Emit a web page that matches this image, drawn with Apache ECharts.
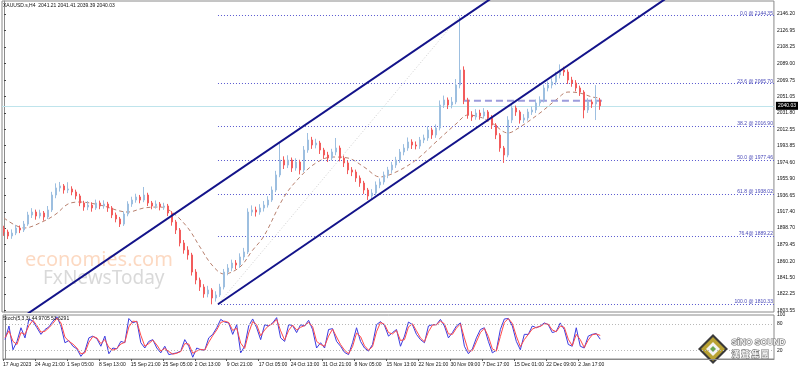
<!DOCTYPE html>
<html><head><meta charset="utf-8">
<script src="https://cdn.jsdelivr.net/npm/echarts@6/dist/echarts.min.js"></script>
<style>html,body{margin:0;padding:0;background:#fff}#c{width:798px;height:371px}</style>
</head><body><div id="c"></div>
<script>
const timeLabels = ['17 Aug 2023','24 Aug 21:00','1 Sep 05:00','8 Sep 13:00','15 Sep 21:00','25 Sep 05:00','2 Oct 13:00','9 Oct 21:00','17 Oct 05:00','24 Oct 13:00','31 Oct 21:00','8 Nov 05:00','15 Nov 13:00','22 Nov 21:00','30 Nov 09:00','7 Dec 17:00','15 Dec 01:00','22 Dec 09:00','2 Jan 17:00'];
const priceTicks = [2146.20,2126.95,2108.25,2089.00,2069.75,2051.05,2031.80,2012.55,1993.85,1974.60,1955.90,1936.65,1917.40,1898.70,1879.45,1860.20,1841.50,1822.25,1803.55];
const stochTicks = [100,80,20];
// [open, close, low, high]
const candles = [
[1898.0,1894.0,1889.5,1901.2],[1894.0,1889.4,1885.8,1896.7],[1889.4,1892.8,1886.1,1897.0],[1892.8,1898.6,1890.4,1902.3],[1898.6,1896.3,1892.7,1901.5],
[1896.3,1903.2,1894.0,1906.8],[1903.2,1913.7,1901.1,1917.4],[1913.7,1917.1,1910.2,1921.6],[1917.1,1912.5,1908.3,1919.9],[1912.5,1916.0,1909.7,1919.8],
[1916.0,1911.4,1907.2,1918.3],[1911.4,1919.5,1909.0,1924.1],[1919.5,1936.8,1917.2,1940.5],[1936.8,1945.0,1933.1,1950.3],[1945.0,1947.3,1940.8,1951.9],
[1947.3,1942.6,1938.4,1949.5],[1942.6,1943.8,1939.0,1951.6],[1943.8,1940.3,1936.5,1946.9],[1940.3,1935.7,1931.8,1943.0],[1935.7,1927.6,1923.9,1938.2],
[1927.6,1922.9,1918.6,1930.1],[1922.9,1925.2,1919.3,1929.8],[1925.2,1921.8,1917.5,1928.4],[1921.8,1927.6,1919.6,1931.5],[1927.6,1924.1,1920.4,1930.3],
[1924.1,1926.4,1921.0,1930.7],[1926.4,1921.8,1917.3,1928.9],[1921.8,1913.7,1910.1,1924.0],[1913.7,1909.1,1905.2,1916.5],[1909.1,1903.2,1899.8,1911.4],
[1903.2,1914.8,1901.0,1917.9],[1914.8,1926.4,1912.2,1929.6],[1926.4,1931.0,1923.1,1934.8],[1931.0,1934.5,1927.9,1938.3],[1934.5,1931.0,1927.2,1936.9],
[1931.0,1936.8,1928.5,1946.1],[1936.8,1927.6,1924.0,1939.4],[1927.6,1924.1,1920.3,1929.9],[1924.1,1926.4,1921.1,1930.5],[1926.4,1922.9,1919.0,1928.7],
[1922.9,1924.1,1919.6,1927.8],[1924.1,1916.0,1912.4,1926.5],[1916.0,1905.6,1901.3,1918.2],[1905.6,1896.3,1891.7,1908.0],[1896.3,1881.3,1877.4,1898.6],
[1881.3,1873.2,1868.9,1884.7],[1873.2,1867.4,1862.0,1877.5],[1867.4,1847.7,1843.6,1869.9],[1847.7,1838.4,1833.5,1851.0],[1838.4,1830.3,1825.8,1841.2],
[1830.3,1822.3,1817.9,1833.6],[1822.3,1826.9,1818.4,1831.7],[1826.9,1817.6,1810.3,1829.0],[1817.6,1821.1,1813.5,1825.4],[1821.1,1830.3,1818.8,1834.0],
[1830.3,1847.7,1827.5,1851.2],[1847.7,1852.3,1843.9,1856.8],[1852.3,1858.1,1848.6,1862.0],[1858.1,1855.8,1851.0,1861.5],[1855.8,1865.1,1852.4,1869.3],
[1865.1,1870.9,1861.2,1875.6],[1870.9,1917.1,1868.5,1921.4],[1917.1,1919.5,1912.6,1924.8],[1919.5,1917.1,1911.9,1923.3],[1917.1,1921.8,1914.0,1926.2],
[1921.8,1925.2,1917.7,1929.9],[1925.2,1931.0,1922.3,1935.4],[1931.0,1942.6,1928.8,1946.7],[1942.6,1960.0,1940.1,1964.8],[1960.0,1977.3,1957.4,1997.0],
[1977.3,1971.5,1966.9,1981.6],[1971.5,1977.3,1968.0,1982.8],[1977.3,1968.1,1963.5,1980.2],[1968.1,1975.0,1964.9,1979.3],[1975.0,1965.8,1960.7,1977.6],
[1965.8,1988.9,1963.2,1993.5],[1988.9,2000.5,1985.7,2008.6],[2000.5,1994.7,1990.2,2004.1],[1994.7,1997.0,1990.8,2001.9],[1997.0,1988.9,1984.3,1999.5],
[1988.9,1983.1,1978.6,1991.4],[1983.1,1979.6,1975.0,1986.8],[1979.6,1986.6,1976.8,1990.3],[1986.6,1991.2,1982.9,2002.8],[1991.2,1979.6,1975.8,1994.0],
[1979.6,1973.9,1969.2,1982.5],[1973.9,1965.8,1961.0,1976.4],[1965.8,1963.4,1958.7,1969.1],[1963.4,1956.5,1952.0,1966.2],[1956.5,1950.7,1946.3,1959.4],
[1950.7,1942.6,1938.1,1953.2],[1942.6,1935.7,1931.1,1945.0],[1935.7,1939.1,1932.0,1943.6],[1939.1,1948.4,1936.2,1952.5],[1948.4,1951.9,1944.7,1956.0],
[1951.9,1960.0,1948.8,1963.9],[1960.0,1965.8,1956.3,1969.4],[1965.8,1971.5,1962.1,1975.2],[1971.5,1977.3,1968.2,1981.0],[1977.3,1986.6,1974.0,1990.1],
[1986.6,1991.2,1982.8,1995.7],[1991.2,1998.2,1988.0,2003.4],[1998.2,1994.7,1990.1,2001.3],[1994.7,1993.5,1989.6,1998.8],[1993.5,2000.5,1990.2,2004.0],
[2000.5,2002.8,1996.9,2006.7],[2002.8,2012.1,1999.5,2016.4],[2012.1,2006.3,2001.8,2014.9],[2006.3,2014.4,2003.0,2018.5],[2014.4,2041.0,2011.6,2046.2],
[2041.0,2046.8,2037.5,2051.9],[2046.8,2041.0,2036.3,2049.7],[2041.0,2044.5,2037.1,2050.2],[2044.5,2064.1,2041.9,2071.0],[2064.1,2081.5,2060.3,2143.0],
[2081.5,2046.8,2042.0,2085.7],[2046.8,2029.4,2025.1,2049.3],[2029.4,2027.1,2022.6,2033.8],[2027.1,2031.7,2023.9,2036.2],[2031.7,2028.3,2024.0,2035.5],
[2028.3,2032.9,2025.2,2037.4],[2032.9,2026.0,2021.7,2035.1],[2026.0,2017.8,2013.2,2029.3],[2017.8,2006.3,2001.5,2020.0],[2006.3,1991.2,1986.9,2008.4],
[1991.2,1983.1,1974.0,1993.6],[1983.1,2023.6,1980.5,2028.0],[2023.6,2037.5,2020.1,2041.8],[2037.5,2032.9,2028.4,2040.3],[2032.9,2023.6,2019.5,2035.0],
[2023.6,2026.0,2020.2,2030.4],[2026.0,2032.9,2022.8,2036.6],[2032.9,2035.2,2029.5,2039.1],[2035.2,2043.3,2031.7,2047.2],[2043.3,2046.8,2039.9,2051.0],
[2046.8,2060.7,2044.0,2064.5],[2060.7,2064.1,2056.8,2068.3],[2064.1,2067.6,2060.2,2071.9],[2067.6,2075.7,2064.0,2079.4],[2075.7,2081.5,2071.8,2088.0],
[2081.5,2079.2,2074.7,2085.3],[2079.2,2069.9,2065.4,2082.0],[2069.9,2066.5,2062.1,2073.6],[2066.5,2060.7,2056.8,2069.8],[2060.7,2056.0,2051.5,2063.4],
[2056.0,2035.2,2025.6,2058.1],[2035.2,2044.5,2031.8,2048.9],[2044.5,2042.1,2037.6,2047.3],[2042.1,2046.8,2023.6,2064.0],[2046.8,2040.03,2035.4,2049.2]
];
const maIdx = [0,5,10,13,16,19,24,31,35,39,42,46,49,52,55,59,62,65,70,74,78,82,86,90,94,98,103,108,113,116,119,122,126,129,134,138,141,144,147,149];
const maVal = [1910.2,1898.6,1906.7,1914.8,1926.4,1928.7,1925.2,1917.1,1921.8,1922.9,1917.1,1898.6,1876.6,1855.8,1845.4,1853.5,1872.0,1889.4,1934.5,1957.7,1973.9,1980.8,1979.6,1969.3,1957.7,1963.4,1977.3,1998.2,2019.0,2029.4,2027.1,2020.1,2008.6,2015.5,2031.7,2046.8,2056.0,2054.9,2050.3,2049.1];
const stochK = [44,75,21,40,71,48,91,86,71,56,67,73,86,96,75,37,42,29,23,6,18,48,52,46,29,52,12,25,23,40,37,92,82,86,37,25,40,44,25,14,29,10,12,14,18,44,29,4,25,21,20,48,56,71,90,84,82,56,78,14,29,75,91,71,44,78,75,82,94,48,40,78,76,60,78,75,88,67,25,37,25,67,69,40,29,15,10,37,71,40,25,18,33,78,85,76,52,60,67,29,52,84,78,56,44,37,75,78,78,90,75,48,60,75,82,29,12,23,48,67,71,40,14,20,67,91,92,75,40,21,56,56,75,71,75,82,78,60,63,82,67,33,29,71,29,25,52,56,58,44.97];
const stochD = [48,64,40,33,60,56,76,88,76,61,63,71,81,93,82,50,40,34,25,12,14,38,51,48,35,44,26,20,24,34,38,73,86,85,54,29,35,43,32,18,24,17,11,13,17,35,34,13,18,22,20,38,53,66,83,86,83,65,70,36,24,59,85,78,53,66,76,80,90,64,43,65,77,66,72,76,83,74,40,33,29,52,68,50,33,20,12,28,59,51,30,20,28,62,83,79,60,57,65,42,44,73,80,64,48,39,62,77,78,86,80,57,56,70,80,48,18,19,39,60,70,51,23,18,51,83,92,81,52,28,44,56,68,72,74,80,79,66,62,75,72,45,30,56,44,26,43,55,57,53.63];
const fibText = ['0.0 @ 2144.35','23.6 @ 2065.70','38.2 @ 2016.90','50.0 @ 1977.46','61.8 @ 1938.02','76.4@ 1889.22','100.0 @ 1810.33'];
const fibPrices = [2144.35,2065.70,2016.90,1977.46,1938.02,1889.22,1810.33];
const fibStartIdx = 53.5;
const upperChannel = [[-3.75,1769.0],[128.6,2185.7]];
const lowerChannel = [[53.5,1810.33],[172.3,2185.7]];
const fibTrend = [[53.5,1810.33],[114,2144.35]];
const rangeLine = [[114.75,2046.0],[150,2046.0]];
const lastPrice = 2040.03;
const headerText = 'XAUUSD.s,H4  2041.21 2041.41 2039.39 2040.03';
const stochText = 'Stoch(5,3,3) 44.9705 53.6291';
const N = 193;

const FONT = 'Liberation Sans';
const chart = echarts.init(document.getElementById('c'), null, {renderer:'canvas'});
const xMin = -0.5, xMax = N - 0.5;
const labelPos = timeLabels.map((_,k)=>k*8-0.5);
const lineSeries = (data, style, extra) => Object.assign({type:'line', xAxisIndex:2, yAxisIndex:0, data, symbol:'none', silent:true, animation:false, lineStyle:style}, extra||{});

chart.setOption({
  animation:false,
  backgroundColor:'#fff',
  grid:[
    {left:2, right:24, top:1, height:311, show:true, borderColor:'#8a8a8a', borderWidth:1, containLabel:false},
    {left:2, right:24, top:315, height:44, show:true, borderColor:'#8a8a8a', borderWidth:1, containLabel:false}
  ],
  xAxis:[
    {type:'category', gridIndex:0, data:Array.from({length:N},(_,i)=>i), show:false, boundaryGap:true},
    {type:'value', gridIndex:1, min:xMin, max:xMax, splitLine:{show:false},
      axisLine:{show:true, lineStyle:{color:'#8a8a8a'}},
      axisTick:{show:true, length:2, lineStyle:{color:'#555'}, customValues:labelPos},
      axisLabel:{show:true, fontSize:5, fontFamily:FONT, color:'#111', margin:3, align:'left', showMinLabel:true,
        customValues:labelPos,
        formatter:(v)=>timeLabels[Math.round((v+0.5)/8)] || ''}},
    {type:'value', gridIndex:0, min:xMin, max:xMax, show:false}
  ],
  yAxis:[
    {type:'value', gridIndex:0, position:'right', min:1801.41, max:2161.36, scale:true, splitLine:{show:false},
      axisLine:{show:true, lineStyle:{color:'#8a8a8a'}},
      axisTick:{show:true, length:2, lineStyle:{color:'#444'}, customValues:priceTicks},
      axisLabel:{fontSize:5, fontFamily:FONT, color:'#111', margin:3, customValues:priceTicks, formatter:(v)=>v.toFixed(2)}},
    {type:'value', gridIndex:1, position:'right', min:0, max:100, splitLine:{show:false},
      axisLine:{show:true, lineStyle:{color:'#8a8a8a'}},
      axisTick:{show:false},
      axisLabel:{fontSize:5, fontFamily:FONT, color:'#111', margin:3, customValues:stochTicks}}
  ],
  graphic:[
    {type:'text', left:3, top:3, z:50, style:{text:headerText, fontSize:5, fontFamily:FONT, fill:'#111'}},
    {type:'text', left:3, top:316, z:50, style:{text:stochText, fontSize:5, fontFamily:FONT, fill:'#111'}},
    {type:'text', left:25, top:250, z:0, style:{text:'economies.com', fontSize:20, fontFamily:'Noto Sans', fill:'rgba(248,170,120,0.45)'}},
    {type:'text', left:43, top:269, z:0, style:{text:'FxNewsToday', fontSize:19, fontFamily:'Noto Sans', fill:'rgba(170,170,170,0.45)'}},
    {type:'group', left:698, top:334, z:100, children:[
      {type:'polygon', shape:{points:[[15,0],[30,15],[15,30],[0,15]]}, style:{fill:'#3a3a3a'}},
      {type:'polygon', shape:{points:[[15,3],[27,15],[15,27],[3,15]]}, style:{fill:'#b9a233'}},
      {type:'polygon', shape:{points:[[15,8],[22,15],[15,22],[8,15]]}, style:{fill:'#f4f4f4'}},
      {type:'polygon', shape:{points:[[15,12],[18,15],[15,18],[12,15]]}, style:{fill:'#6aa84f'}}
    ]},
    {type:'text', left:731, top:338, z:100, style:{text:'SiNO SOUND', fontSize:8.5, fontWeight:'bold', fontFamily:FONT, fill:'#f2f2f2', stroke:'#7a7a7a', lineWidth:1.2}},
    {type:'text', left:731, top:349, z:100, style:{text:'漢 聲 集 團', fontSize:8, fontWeight:'bold', fontFamily:'Noto Sans CJK TC', fill:'#f2f2f2', stroke:'#7a7a7a', lineWidth:1.2}}
  ],
  series:[
    lineSeries(fibTrend, {color:'#cfcfcf', width:1, type:[1,2]}, {z:2,
      markLine:{silent:true, symbol:'none', animation:false,
        lineStyle:{color:'#5a5ad0', width:1, type:[1,2]},
        label:{show:true, position:'insideEndTop', distance:[1,0], fontSize:5, fontFamily:FONT, color:'#4747b8', formatter:(p)=>fibText[p.dataIndex]},
        data:fibPrices.map(p=>[{coord:[fibStartIdx,p]},{coord:[xMax,p]}])}}),
    lineSeries(maIdx.map((x,k)=>[x,maVal[k]]), {color:'#b8806e', width:1, type:[4,3]}, {smooth:0.35, z:3}),
    lineSeries(rangeLine, {color:'#9c9cdc', width:2, type:[7,4]}, {z:4}),
    {type:'candlestick', xAxisIndex:0, yAxisIndex:0, data:candles, barWidth:2, silent:true, z:5,
      itemStyle:{color:'#9dbfe0', color0:'#f25c5c', borderColor:'#9dbfe0', borderColor0:'#f25c5c', borderWidth:1},
      markLine:{silent:true, symbol:'none', z:1, lineStyle:{color:'#bfe4ec', width:1, type:'solid'},
        label:{show:true, position:'end', distance:2, formatter:lastPrice.toFixed(2), backgroundColor:'#000', color:'#fff', fontSize:5, fontFamily:FONT, padding:[2,2,1,2]},
        data:[{yAxis:lastPrice}]}},
    lineSeries(upperChannel, {color:'#13138a', width:2}, {z:6}),
    lineSeries(lowerChannel, {color:'#13138a', width:2}, {z:6}),
    {type:'line', xAxisIndex:1, yAxisIndex:1, data:stochK.map((v,i)=>[i,v]), symbol:'none', silent:true, z:3,
      lineStyle:{color:'#3c3ce0', width:1},
      markLine:{silent:true, symbol:'none', label:{show:false}, lineStyle:{color:'#b8b8b8', width:1, type:[1,2]}, data:[{yAxis:80},{yAxis:20}]}},
    {type:'line', xAxisIndex:1, yAxisIndex:1, data:stochD.map((v,i)=>[i,v]), symbol:'none', silent:true, z:4,
      lineStyle:{color:'#ff4a4a', width:1}}
  ]
});
</script></body></html>
